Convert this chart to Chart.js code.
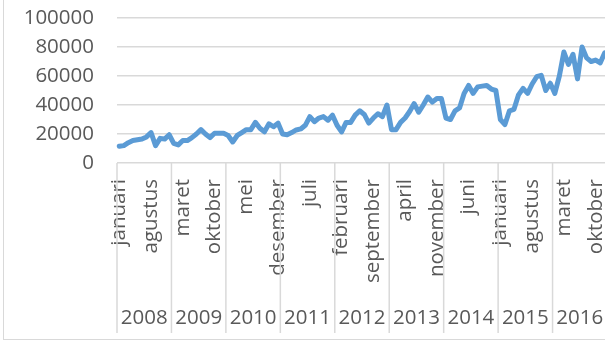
<!DOCTYPE html>
<html>
<head>
<meta charset="utf-8">
<script src="https://cdn.jsdelivr.net/npm/chart.js@4.4.1/dist/chart.umd.min.js"></script>
<style>
    body { margin: 0; overflow: hidden; background: #fff; }
    #bingkai {
        position: absolute; left: 3px; top: -5px;
        width: 700px; height: 344px;
        border-left: 1px solid #d9d9d9;
        border-bottom: 1px solid #d9d9d9;
    }
    #grafik { position: absolute; left: 0; top: 0; }
</style>
</head>
<body>
<div id="bingkai"></div>
<canvas id="grafik" width="612" height="345"></canvas>
<script>
// data bulanan januari 2008 - desember 2016
const tahun = ['2008', '2009', '2010', '2011', '2012', '2013', '2014', '2015', '2016'];

const namaBulan = [
    'januari', 'februari', 'maret', 'april', 'mei', 'juni',
    'juli', 'agustus', 'september', 'oktober', 'november', 'desember'
];

const nilai = [
    // 2008
    11500, 12000, 14000, 15500, 16000, 16500, 18000, 21000, 12000, 17000, 16500, 19500,
    // 2009
    13500, 12500, 15500, 15500, 17500, 20000, 23000, 20000, 17500, 20500, 20500, 20500,
    // 2010
    19000, 14500, 19000, 21000, 23000, 23000, 28000, 24000, 21500, 27000, 25000, 27500,
    // 2011
    20000, 19500, 21000, 22800, 23500, 26000, 32000, 28500, 31000, 32000, 29500, 33000,
    // 2012
    26000, 21500, 28000, 28000, 33000, 36000, 33500, 27500, 31000, 34000, 32000, 40000,
    // 2013
    23000, 23000, 28000, 31000, 35500, 41000, 35000, 40000, 45500, 42000, 44500, 44500,
    // 2014
    31000, 30000, 36000, 38000, 48000, 53500, 48000, 52500, 53000, 53500, 51000, 50000,
    // 2015
    30000, 26500, 36000, 37000, 47000, 51500, 48000, 54500, 59500, 60500, 50000, 55000,
    // 2016
    48000, 60000, 76500, 68000, 75000, 58000, 80000, 72500, 70000, 71000, 69000, 76000
];

const batasSumbuY = [0, 100000];
const langkahSumbuY = 20000;

// label kategori: nama bulan untuk setiap tahun
const labelBulan = [];
tahun.forEach(function () {
    namaBulan.forEach(function (b) { labelBulan.push(b); });
});

const warnaTeks = '#595959';
const warnaGaris = '#d9d9d9';
const hurufSumbu = { family: 'Open Sans', size: 20.5 };

// plugin untuk garis pemisah tahun dan label tahun di bawah sumbu x
const pluginTahun = {
    id: 'labelTahun',
    afterDraw(chart) {
        const ctx = chart.ctx;
        const sx = chart.scales.x;
        const area = chart.chartArea;
        const setengah = (sx.getPixelForValue(1) - sx.getPixelForValue(0)) / 2;
        ctx.save();
        ctx.strokeStyle = warnaGaris;
        ctx.lineWidth = 1.5;
        for (let i = 0; i <= tahun.length; i++) {
            let x = sx.getPixelForValue(Math.min(i * 12, labelBulan.length - 1));
            x = (i * 12 >= labelBulan.length) ? x + setengah : x - setengah;
            ctx.beginPath();
            ctx.moveTo(x, area.bottom);
            ctx.lineTo(x, 333);
            ctx.stroke();
        }
        ctx.fillStyle = warnaTeks;
        ctx.font = hurufSumbu.size + 'px "' + hurufSumbu.family + '"';
        ctx.textAlign = 'center';
        ctx.textBaseline = 'middle';
        for (let i = 0; i < tahun.length; i++) {
            const a = sx.getPixelForValue(i * 12) - setengah;
            const b = sx.getPixelForValue(i * 12 + 11) + setengah;
            ctx.fillText(tahun[i], (a + b) / 2, 318);
        }
        ctx.restore();
    }
};

const data_grafik = {
    labels: labelBulan,
    datasets: [{
        data: nilai,
        borderColor: '#5b9bd5',
        backgroundColor: '#5b9bd5',
        borderWidth: 5,
        borderJoinStyle: 'round',
        borderCapStyle: 'round',
        pointRadius: 0,
        tension: 0,
        fill: false
    }]
};

const config_grafik = {
    type: 'line',
    data: data_grafik,
    plugins: [pluginTahun],
    options: {
        responsive: false,
        animation: false,
        devicePixelRatio: 1,
        layout: { padding: { top: 18, right: 5, left: 0, bottom: 0 } },
        plugins: {
            legend: { display: false },
            tooltip: { enabled: false }
        },
        scales: {
            x: {
                type: 'category',
                offset: true,
                grid: { display: false, drawTicks: false },
                border: { display: false },
                ticks: {
                    autoSkip: false,
                    maxRotation: 90,
                    minRotation: 90,
                    padding: 16,
                    color: warnaTeks,
                    font: hurufSumbu,
                    callback: function (v, i) {
                        return i % 7 === 0 ? this.getLabelForValue(v) : null;
                    }
                },
                afterFit: function (scale) {
                    scale.height = 182;
                    scale.paddingLeft = 0;
                    scale.paddingRight = 0;
                }
            },
            y: {
                min: batasSumbuY[0],
                max: batasSumbuY[1],
                grid: { color: warnaGaris, lineWidth: 1.5, drawTicks: false },
                border: { display: false },
                ticks: {
                    stepSize: langkahSumbuY,
                    autoSkip: false,
                    padding: 23,
                    color: warnaTeks,
                    font: hurufSumbu,
                    callback: function (v) { return String(v); }
                },
                afterFit: function (scale) {
                    scale.width = 117;
                    scale.paddingTop = 0;
                    scale.paddingBottom = 0;
                }
            }
        }
    }
};

const grafik = new Chart(document.getElementById('grafik'), config_grafik);
</script>
</body>
</html>
